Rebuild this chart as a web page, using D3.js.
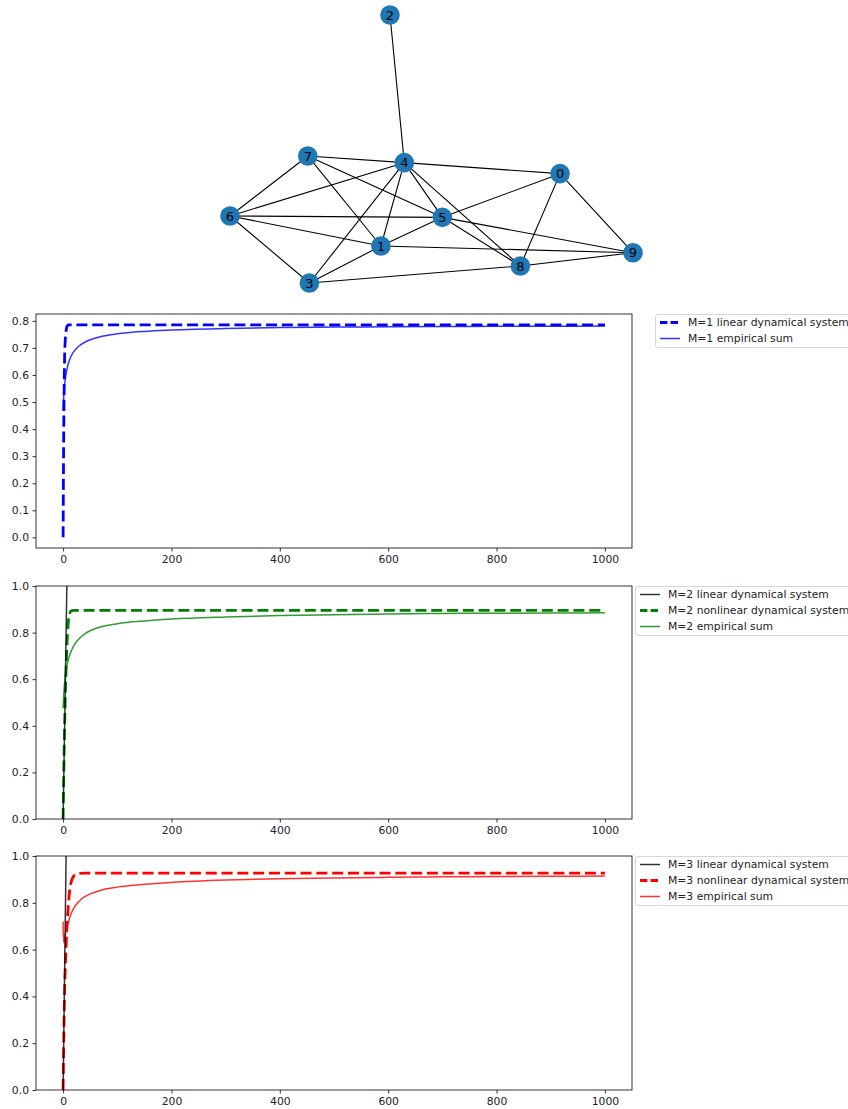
<!DOCTYPE html>
<html>
<head>
<meta charset="utf-8">
<script src="https://cdn.jsdelivr.net/npm/d3@7"></script>
<style>
  body { margin: 0; background: #fff; }
  svg { display: block; font-family: "DejaVu Sans", sans-serif; }
</style>
</head>
<body>
<svg id="fig" width="848" height="1109"></svg>
<script>
// graph: layout coords
const nodeIds = [0, 1, 2, 3, 4, 5, 6, 7, 8, 9];
const nodeX = [0.638, -0.251, -0.206, -0.606, -0.135, 0.054, -1.0, -0.614, 0.441, 1.0];
const nodeY = [-0.184, -0.724, 1.0, -1.0, -0.102, -0.51, -0.5, -0.052, -0.873, -0.774];
const edges = [[2,4],[7,4],[4,0],[7,6],[7,1],[7,5],[4,6],[4,3],[4,1],[4,5],[4,8],
  [0,5],[0,8],[0,9],[6,5],[6,1],[6,3],[5,1],[5,8],[5,9],[1,9],[1,3],[3,8],[8,9]];

// time series, sampled
const steps = [0,1,2,3,4,5,6,7,8,10,12,15,20,25,30,40,50,70,100,150,200,300,400,500,600,700,800,900,1000];
const m1Linear = [0,0.35,0.56,0.68,0.73,0.755,0.77,0.778,0.782,0.785,0.785,0.785,0.785,0.785,0.785,0.785,0.785,0.785,0.785,0.785,0.785,0.785,0.785,0.785,0.785,0.785,0.785,0.785,0.785];
const m1Empirical = [0.47,0.515,0.545,0.567,0.584,0.598,0.61,0.62,0.629,0.644,0.656,0.67,0.687,0.699,0.708,0.721,0.73,0.742,0.752,0.761,0.766,0.772,0.775,0.777,0.778,0.779,0.78,0.78,0.781];

const linSteps = [0,1,2,3,4,5,6,7,8,10,12];
const m2Linear = [0,0.14,0.28,0.42,0.56,0.71,0.86,1.01,1.17,1.5,1.85];
const m2Nonlinear = [0,0.16,0.3,0.42,0.52,0.6,0.68,0.74,0.79,0.855,0.88,0.893,0.895,0.895,0.895,0.895,0.895,0.895,0.895,0.895,0.895,0.895,0.895,0.895,0.895,0.895,0.895,0.895,0.895];
const m2Empirical = [0.475,0.525,0.562,0.59,0.612,0.63,0.645,0.658,0.669,0.687,0.702,0.72,0.745,0.762,0.775,0.795,0.808,0.825,0.838,0.85,0.858,0.867,0.873,0.877,0.88,0.882,0.883,0.884,0.885];

const m3Linear = [0,0.18,0.36,0.54,0.72,0.9,1.08,1.26,1.44,1.8,2.2];
const m3Nonlinear = [0,0.18,0.33,0.44,0.52,0.58,0.64,0.69,0.73,0.8,0.85,0.89,0.915,0.923,0.926,0.927,0.927,0.927,0.927,0.927,0.927,0.927,0.927,0.927,0.927,0.927,0.927,0.927,0.927];
const m3Empirical = [0.72,0.63,0.638,0.65,0.662,0.673,0.684,0.694,0.703,0.72,0.735,0.754,0.778,0.795,0.808,0.826,0.838,0.854,0.867,0.879,0.887,0.897,0.903,0.906,0.909,0.911,0.912,0.913,0.914];

const xTicks = [0, 200, 400, 600, 800, 1000];
const yTicks1 = [0, 0.1, 0.2, 0.3, 0.4, 0.5, 0.6, 0.7, 0.8];
const yTicks2 = [0, 0.2, 0.4, 0.6, 0.8, 1.0];

const svg = d3.select("#fig");
const fs = 10.8;

// ---- network ----
const gx = d3.scaleLinear().domain([-1, 1]).range([230, 633]);
const gy = d3.scaleLinear().domain([-1, 1]).range([283, 15]);
const gNet = svg.append("g");
gNet.selectAll("line.edge").data(edges).join("line")
  .attr("class", "edge")
  .attr("x1", d => gx(nodeX[d[0]])).attr("y1", d => gy(nodeY[d[0]]))
  .attr("x2", d => gx(nodeX[d[1]])).attr("y2", d => gy(nodeY[d[1]]))
  .attr("stroke", "#000").attr("stroke-width", 1.1);
gNet.selectAll("circle").data(nodeIds).join("circle")
  .attr("cx", d => gx(nodeX[d])).attr("cy", d => gy(nodeY[d]))
  .attr("r", 9.8).attr("fill", "#1f77b4");
gNet.selectAll("text").data(nodeIds).join("text")
  .attr("x", d => gx(nodeX[d])).attr("y", d => gy(nodeY[d]))
  .attr("text-anchor", "middle").attr("dy", "0.36em")
  .attr("font-size", 13).attr("fill", "#000")
  .text(d => d);

// ---- line panels ----
const left = 36, right = 632;

function panel(idx, top, bottom, yDomain, yTicks, fmt, series, legend) {
  const x = d3.scaleLinear().domain([-50, 1050]).range([left, right]);
  const y = d3.scaleLinear().domain(yDomain).range([bottom, top]);
  const g = svg.append("g");

  g.append("clipPath").attr("id", "clip" + idx)
    .append("rect").attr("x", left).attr("y", top).attr("width", right - left).attr("height", bottom - top);

  const plot = g.append("g").attr("clip-path", "url(#clip" + idx + ")");
  series.forEach(s => {
    const pts = s.t.map((t, i) => [t, s.v[i]]);
    plot.append("path")
      .datum(pts)
      .attr("fill", "none")
      .attr("stroke", s.color)
      .attr("stroke-width", s.width)
      .attr("stroke-opacity", s.opacity)
      .attr("stroke-dasharray", s.dash ? "11,4.8" : null)
      .attr("d", d3.line().x(d => x(d[0])).y(d => y(d[1])).curve(d3.curveMonotoneX));
  });

  // axes
  const xa = g.append("g").attr("transform", `translate(0,${bottom})`)
    .call(d3.axisBottom(x).tickValues(xTicks).tickSize(3.5).tickPadding(3.5).tickFormat(d3.format("d")));
  const ya = g.append("g").attr("transform", `translate(${left},0)`)
    .call(d3.axisLeft(y).tickValues(yTicks).tickSize(3.5).tickPadding(3.5).tickFormat(fmt));
  [xa, ya].forEach(a => {
    a.select(".domain").remove();
    a.selectAll("line").attr("stroke", "#000").attr("stroke-width", 0.8);
    a.selectAll("text").attr("font-size", fs).attr("fill", "#222")
      .attr("font-family", "DejaVu Sans, sans-serif");
  });

  g.append("rect")
    .attr("x", left).attr("y", top).attr("width", right - left).attr("height", bottom - top)
    .attr("fill", "none").attr("stroke", "#000").attr("stroke-width", 0.8);

  // legend
  const lg = g.append("g").attr("transform", `translate(${legend.x},${top})`);
  lg.append("rect")
    .attr("x", 0.5).attr("y", 0.5).attr("rx", 2.5)
    .attr("width", 220).attr("height", legend.items.length * 16 + 1)
    .attr("fill", "#fff").attr("fill-opacity", 0.8)
    .attr("stroke", "#ccc").attr("stroke-width", 0.8);
  legend.items.forEach((s, i) => {
    const cy = 8.5 + i * 16;
    lg.append("line")
      .attr("x1", 5).attr("x2", 25).attr("y1", cy).attr("y2", cy)
      .attr("stroke", s.color).attr("stroke-width", s.width)
      .attr("stroke-opacity", s.opacity)
      .attr("stroke-dasharray", s.dash ? "7.4,3.2" : null);
    lg.append("text")
      .attr("x", 33).attr("y", cy).attr("dy", "0.35em")
      .attr("font-size", fs).attr("fill", "#222")
      .text(s.label);
  });
}

const b1 = { t: steps, v: m1Linear, color: "#0000ff", width: 2.8, opacity: 1, dash: true, label: "M=1 linear dynamical system" };
const b2 = { t: steps, v: m1Empirical, color: "#0000ff", width: 1.5, opacity: 0.8, dash: false, label: "M=1 empirical sum" };
panel(1, 314, 548, [-0.0393, 0.8253], yTicks1, d3.format(".1f"), [b1, b2], { x: 655, items: [b1, b2] });

const g1 = { t: linSteps, v: m2Linear, color: "#000000", width: 1.5, opacity: 0.8, dash: false, label: "M=2 linear dynamical system" };
const g2 = { t: steps, v: m2Nonlinear, color: "#008000", width: 2.8, opacity: 1, dash: true, label: "M=2 nonlinear dynamical system" };
const g3 = { t: steps, v: m2Empirical, color: "#008000", width: 1.5, opacity: 0.8, dash: false, label: "M=2 empirical sum" };
panel(2, 586, 819, [0, 1], yTicks2, d3.format(".1f"), [g2, g3, g1], { x: 635, items: [g1, g2, g3] });

const r1 = { t: linSteps, v: m3Linear, color: "#000000", width: 1.5, opacity: 0.8, dash: false, label: "M=3 linear dynamical system" };
const r2 = { t: steps, v: m3Nonlinear, color: "#ff0000", width: 2.8, opacity: 1, dash: true, label: "M=3 nonlinear dynamical system" };
const r3 = { t: steps, v: m3Empirical, color: "#ff0000", width: 1.5, opacity: 0.8, dash: false, label: "M=3 empirical sum" };
panel(3, 856, 1090, [0, 1], yTicks2, d3.format(".1f"), [r2, r3, r1], { x: 635, items: [r1, r2, r3] });
</script>
</body>
</html>
